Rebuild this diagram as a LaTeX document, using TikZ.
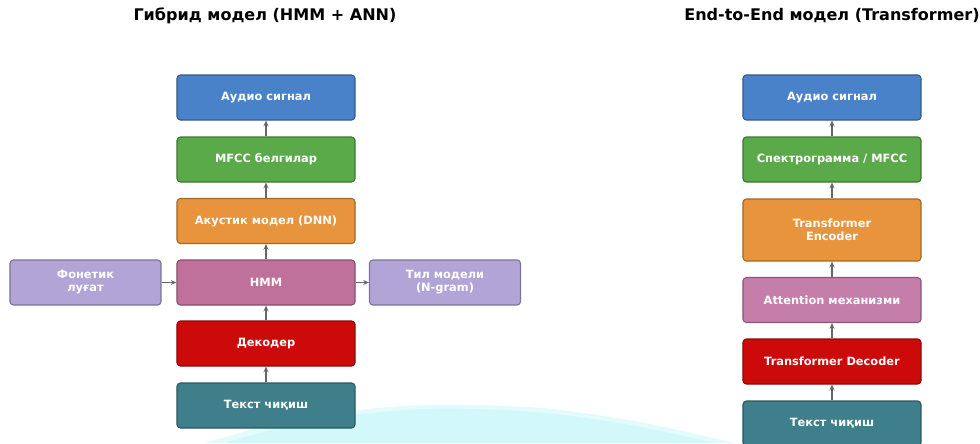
\documentclass[tikz,border=0pt]{standalone}
\usepackage{fontspec}
\setmainfont{DejaVu Sans}
\usetikzlibrary{arrows.meta}

\definecolor{audioblue}{HTML}{4A82CA}
\definecolor{featgreen}{HTML}{5BAA4A}
\definecolor{acorange}{HTML}{E8943C}
\definecolor{hmmmauve}{HTML}{C0719B}
\definecolor{attpink}{HTML}{C57DA9}
\definecolor{lexpurple}{HTML}{B2A4D6}
\definecolor{decred}{HTML}{CC0A0A}
\definecolor{outteal}{HTML}{3F7F8B}
\definecolor{moundcyan}{HTML}{D2F8FA}

\tikzset{
	blk/.style={draw=#1!70!black, fill=#1, line width=0.8pt, rounded corners=2.5pt,
		minimum width=4.45cm, minimum height=1.125cm, align=center,
		text=white, font=\fontsize{8.1}{9.2}\selectfont\bfseries},
	sideblk/.style={blk=lexpurple, minimum width=3.775cm},
	flow/.style={draw=black!60, line width=0.8pt, -{Stealth[length=4pt,width=3.5pt]}},
	heading/.style={font=\fontsize{11.4}{13}\selectfont\bfseries}
}

\begin{document}
\begin{tikzpicture}[x=0.025cm, y=-0.025cm]

	% page frame
	\useasboundingbox (0,0) rectangle (980,443);

	% faint background mound
	\fill[moundcyan!60] plot [smooth] coordinates {(205,443) (300,418) (420,405) (540,408) (640,422) (735,443)};
	\fill[moundcyan] plot [smooth] coordinates {(225,443) (310,421) (425,409) (535,412) (630,425) (715,443)};

	% headings
	\node[heading] (hyb) at (265,16) {Гибрид модел (HMM + ANN)};
	\node[heading] (e2e) at (832,16) {End-to-End модел (Transformer)};

	% hybrid pipeline
	\node[blk=audioblue] (haudio) at (266,97.5) {Аудио сигнал};
	\node[blk=featgreen] (hmfcc) at (266,159.5) {MFCC белгилар};
	\node[blk=acorange] (hacou) at (266,221) {Акустик модел (DNN)};
	\node[blk=hmmmauve] (hhmm) at (266,282.5) {HMM};
	\node[blk=decred] (hdec) at (266,343.5) {Декодер};
	\node[blk=outteal] (hout) at (266,405.5) {Текст чиқиш};

	\node[sideblk] (hlex) at (85.5,282.5) {Фонетик\\луғат};
	\node[sideblk] (hlm) at (445,282.5) {Тил модели\\(N-gram)};

	\foreach \a/\b in {hout/hdec, hdec/hhmm, hhmm/hacou, hacou/hmfcc, hmfcc/haudio} {
		\draw[flow] (\a) -- (\b);
	}
	\draw[flow] (hlex) -- (hhmm);
	\draw[flow] (hhmm) -- (hlm);

	% end-to-end pipeline
	\node[blk=audioblue] (eaudio) at (832,97.5) {Аудио сигнал};
	\node[blk=featgreen] (espec) at (832,159.5) {Спектрограмма / MFCC};
	\node[blk=acorange, minimum height=1.55cm] (eenc) at (832,230) {Transformer\\Encoder};
	\node[blk=attpink] (eatt) at (832,300) {Attention механизми};
	\node[blk=decred] (edec) at (832,361.5) {Transformer Decoder};
	\node[blk=outteal] (eout) at (832,423.5) {Текст чиқиш};

	\foreach \a/\b in {eout/edec, edec/eatt, eatt/eenc, eenc/espec, espec/eaudio} {
		\draw[flow] (\a) -- (\b);
	}

\end{tikzpicture}
\end{document}
